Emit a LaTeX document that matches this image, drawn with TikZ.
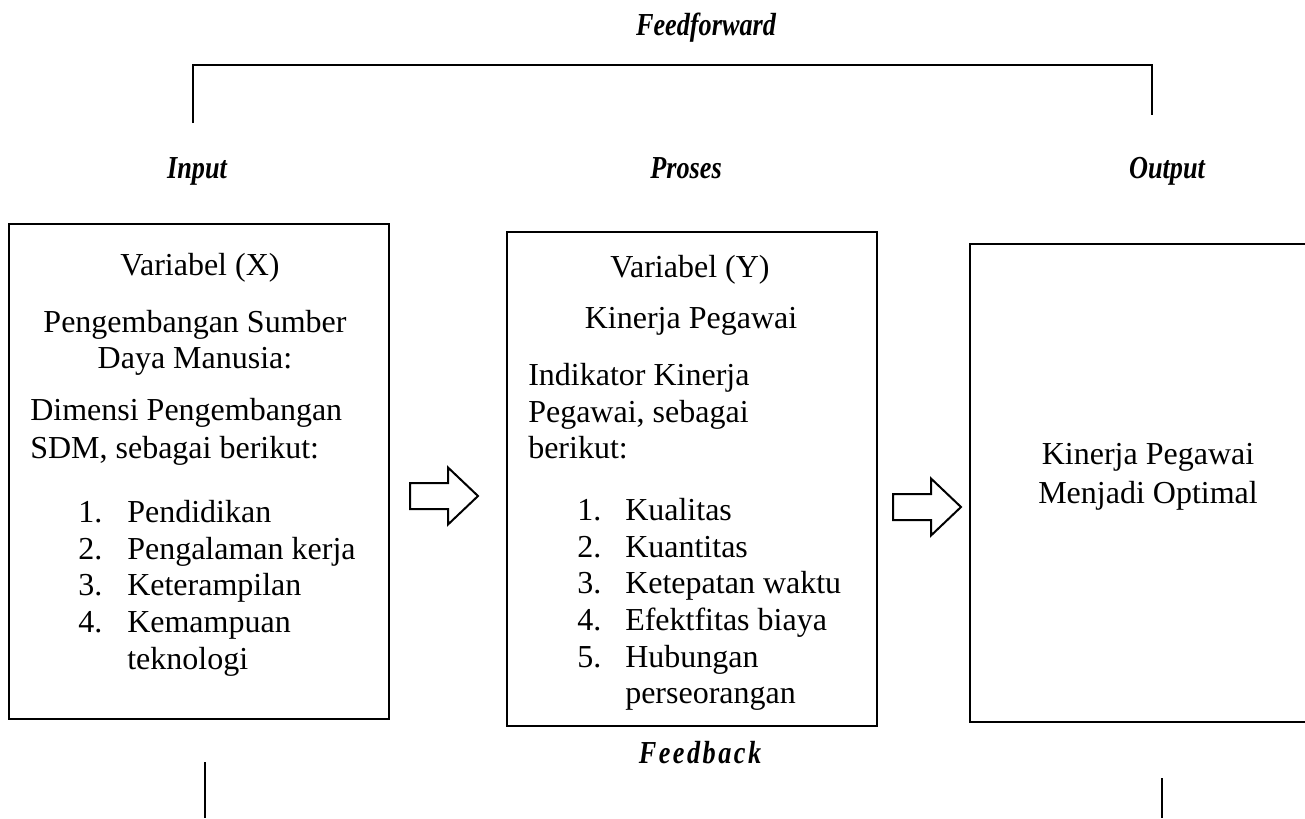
\documentclass[tikz,border=0pt]{standalone}
\usepackage{fontspec}
\setmainfont{Liberation Serif}
\newcommand{\condlbl}[1]{\scalebox{0.82}[1]{#1}}
\begin{document}
\begin{tikzpicture}[x=0.75pt,y=-0.75pt,
  box/.style={draw, line width=1.9pt, rectangle, inner sep=0pt},
  body/.style={font=\fontsize{24}{27.5}\selectfont, inner sep=0pt, anchor=base},
  bodyl/.style={body, anchor=base west},
  lbl/.style={font=\fontsize{24}{27}\selectfont\bfseries\itshape, inner sep=0pt, anchor=base},
  thinline/.style={line width=1.1pt},
  blockarrow/.pic={\draw[line width=1.5pt, line join=miter] (0,-13) -- (38,-13) -- (38,-28.5) -- (68,0) -- (38,28.5) -- (38,13) -- (0,13) -- cycle;}]
\useasboundingbox (0,0) rectangle (1305,818);

% labels
\node[lbl] (ff) at (706,35) {\condlbl{Feedforward}};
\node[lbl] (lin) at (197,178) {\condlbl{Input}};
\node[lbl] (lpr) at (686,178) {\condlbl{Proses}};
\node[lbl] (lout) at (1167,178) {\condlbl{Output}};
\node[lbl] (fb) at (700,763) {\condlbl{\addfontfeature{LetterSpace=9.5}Feedback}};

% feedforward bracket
\coordinate (ffa) at (193,123);
\coordinate (ffb) at (193,65);
\coordinate (ffc) at (1152,65);
\coordinate (ffd) at (1152,115);
\draw[thinline] (ffa) -- (ffb) -- (ffc) -- (ffd);

% feedback stubs
\coordinate (fba) at (205,762);
\coordinate (fbb) at (205,818);
\coordinate (fbc) at (1162,778);
\coordinate (fbd) at (1162,818);
\draw[thinline] (fba) -- (fbb);
\draw[thinline] (fbc) -- (fbd);

% boxes
\node[box, minimum width=285pt, minimum height=371.25pt] (b1) at (199,471.5) {};
\node[box, minimum width=277.5pt, minimum height=370.5pt] (b2) at (692,479) {};
\node[box, minimum width=255pt, minimum height=358.5pt] (b3) at (1140,483) {};

% box 1 text
\node[body] (x1) at (200,275) {Variabel (X)};
\node[body] (x2) at (195,332) {Pengembangan Sumber};
\node[body] (x3) at (195,368) {Daya Manusia:};
\node[bodyl] (x4) at (30,420) {Dimensi Pengembangan};
\node[bodyl] (x5) at (30,458) {SDM, sebagai berikut:};
\node[bodyl] (xn1) at (78,522) {1.};
\node[bodyl] (xt1) at (127,522) {Pendidikan};
\node[bodyl] (xn2) at (78,559) {2.};
\node[bodyl] (xt2) at (127,559) {Pengalaman kerja};
\node[bodyl] (xn3) at (78,595) {3.};
\node[bodyl] (xt3) at (127,595) {Keterampilan};
\node[bodyl] (xn4) at (78,632) {4.};
\node[bodyl] (xt4) at (127,632) {Kemampuan};
\node[bodyl] (xt5) at (127,669) {teknologi};

% box 2 text
\node[body] (y1) at (690,277) {Variabel (Y)};
\node[body] (y2) at (691,328) {Kinerja Pegawai};
\node[bodyl] (y3) at (528,385) {Indikator Kinerja};
\node[bodyl] (y4) at (528,422) {Pegawai, sebagai};
\node[bodyl] (y5) at (528,458) {berikut:};
\node[bodyl] (yn1) at (577,520) {1.};
\node[bodyl] (yt1) at (625,520) {Kualitas};
\node[bodyl] (yn2) at (577,557) {2.};
\node[bodyl] (yt2) at (625,557) {Kuantitas};
\node[bodyl] (yn3) at (577,593) {3.};
\node[bodyl] (yt3) at (625,593) {Ketepatan waktu};
\node[bodyl] (yn4) at (577,630) {4.};
\node[bodyl] (yt4) at (625,630) {Efektfitas biaya};
\node[bodyl] (yn5) at (577,667) {5.};
\node[bodyl] (yt5) at (625,667) {Hubungan};
\node[bodyl] (yt6) at (625,703) {perseorangan};

% box 3 text
\node[body] (z1) at (1148,464) {Kinerja Pegawai};
\node[body] (z2) at (1148,503) {Menjadi Optimal};

% block arrows
\pic at (410,496) {blockarrow};
\pic at (893,507) {blockarrow};
\end{tikzpicture}
\end{document}
